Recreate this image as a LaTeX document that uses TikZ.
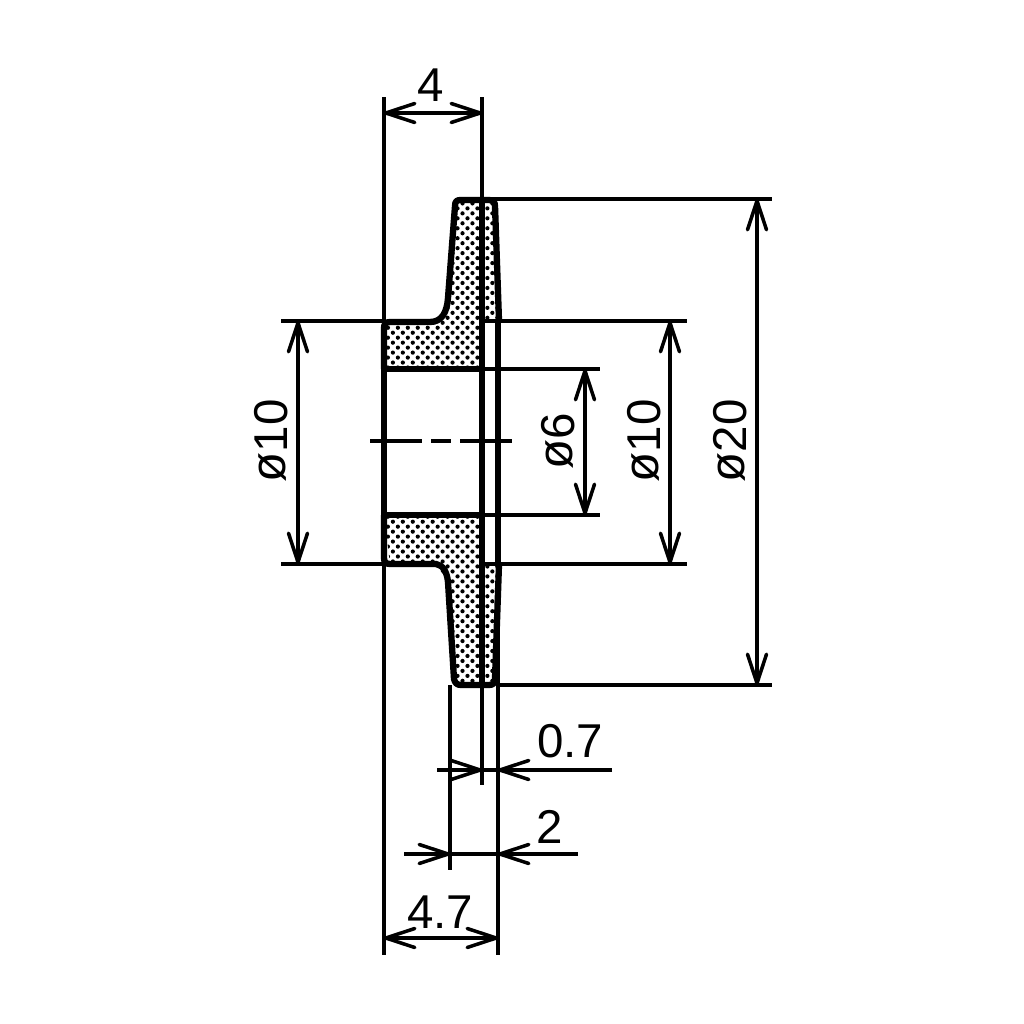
\documentclass[tikz,border=0pt]{standalone}
\usepackage{fontspec}
\setmainfont{Liberation Sans}
\usetikzlibrary{arrows.meta,patterns.meta}

\tikzset{
    thin line/.style={line width=1pt},
    thick line/.style={line width=1.8pt, line join=round},
    dim line/.style={thin line, {Straight Barb[length=2.9mm,width=1.9mm,round]}-{Straight Barb[length=2.9mm,width=1.9mm,round]}},
    dim tip/.style={thin line, -{Straight Barb[length=2.9mm,width=1.9mm,round]}},
    dim text/.style={inner sep=0pt, font=\fontsize{13.5pt}{13.5pt}\selectfont},
    hatch/.style={pattern={Dots[distance=2pt, angle=45, radius=0.6pt]}}
}
\newcommand{\phisign}{\raisebox{0.6pt}{\fontsize{14pt}{14pt}\selectfont ø}}

\begin{document}
\begin{tikzpicture}[x=0.01cm, y=-0.01cm]
        \useasboundingbox (0,0) rectangle (1024,1024);

        % stippled section
        \path[hatch] (384,322) -- (430,322) .. controls (442,322) and (447,312) .. (448,298) -- (455,206) .. controls (455,201) and (457,200) .. (461,200) -- (489,200) .. controls (493,200) and (495,202) .. (495,206) -- (499,321) -- (482,321) -- (482,369) -- (384,369) -- cycle;
        \path[hatch] (384,515) -- (482,515) -- (482,564) -- (499,564) -- (495,680) -- (489,685) -- (461,685) -- (454,679) -- (448,582) -- (436,564) -- (390,564) -- cycle;

        % thin lines first
        \coordinate (a) at (384,97);
        \coordinate (a1) at (384,955);
        \coordinate (b) at (482,97);
        \coordinate (b1) at (482,785);
        \coordinate (c) at (450,685);
        \coordinate (c1) at (450,870);
        \coordinate (d) at (498,321);
        \coordinate (d1) at (498,955);
        \draw[thin line] (a) -- (a1);
        \draw[thin line] (b) -- (b1);
        \draw[thin line] (c) -- (c1);
        \draw[thin line] (d) -- (d1);

        \coordinate (e) at (482,199);
        \coordinate (e1) at (772,199);
        \coordinate (f) at (281,321);
        \coordinate (f1) at (384,321);
        \coordinate (g) at (482,321);
        \coordinate (g1) at (687,321);
        \coordinate (h) at (482,369);
        \coordinate (h1) at (600,369);
        \coordinate (i) at (482,515);
        \coordinate (i1) at (600,515);
        \coordinate (j) at (281,564);
        \coordinate (j1) at (384,564);
        \coordinate (k) at (482,564);
        \coordinate (k1) at (687,564);
        \coordinate (l) at (498,685);
        \coordinate (l1) at (772,685);
        \draw[thin line] (e) -- (e1);
        \draw[thin line] (f) -- (f1);
        \draw[thin line] (g) -- (g1);
        \draw[thin line] (h) -- (h1);
        \draw[thin line] (i) -- (i1);
        \draw[thin line] (j) -- (j1);
        \draw[thin line] (k) -- (k1);
        \draw[thin line] (l) -- (l1);

        % outline
        \draw[thick line] (384,369) -- (384,328) .. controls (384,324) and (386,322) .. (390,322) -- (430,322) .. controls (442,322) and (447,312) .. (448,298) -- (455,206) .. controls (455,201) and (457,200) .. (461,200) -- (489,200) .. controls (493,200) and (495,202) .. (495,206) -- (499,321);
        \draw[thick line] (384,515) -- (384,558) .. controls (384,562) and (386,564) .. (390,564) -- (436,564) .. controls (443,565) and (447,572) .. (448,582) -- (454,679) .. controls (455,683) and (457,685) .. (461,685) -- (489,685) .. controls (493,685) and (495,683) .. (495,679) -- (499,564);
        \draw[thick line] (384,369) -- (482,369);
        \draw[thick line] (384,515) -- (482,515);
        \draw[thick line] (384,369) -- (384,515);
        \draw[thick line] (482,200) -- (482,685);
        \draw[thick line] (498,321) -- (498,564);

        % centre line
        \coordinate (m) at (370,441);
        \coordinate (m1) at (512,441);
        \draw[thin line, dash pattern=on 14.8pt off 2.6pt on 5.7pt off 2.6pt] (m) -- (m1);

        % dimensions
        \coordinate (n) at (384,113);
        \coordinate (n1) at (482,113);
        \draw[dim line] (n) -- (n1);
        \node[dim text] (t4) at (431,85) {4};

        \coordinate (o) at (298,321);
        \coordinate (o1) at (298,564);
        \draw[dim line] (o) -- (o1);
        \node[dim text, rotate=90] (t10a) at (271,441) {\phisign 10};

        \coordinate (p) at (585,369);
        \coordinate (p1) at (585,515);
        \draw[dim line] (p) -- (p1);
        \node[dim text, rotate=90] (t6) at (558,441) {\phisign 6};

        \coordinate (q) at (670,321);
        \coordinate (q1) at (670,564);
        \draw[dim line] (q) -- (q1);
        \node[dim text, rotate=90] (t10b) at (644,441) {\phisign 10};

        \coordinate (r) at (757,199);
        \coordinate (r1) at (757,685);
        \draw[dim line] (r) -- (r1);
        \node[dim text, rotate=90] (t20) at (730,441) {\phisign 20};

        \coordinate (s) at (437,770);
        \coordinate (s1) at (482,770);
        \coordinate (s2) at (612,770);
        \coordinate (s3) at (498,770);
        \draw[dim tip] (s) -- (s1);
        \draw[dim tip] (s2) -- (s3);
        \draw[thin line] (s1) -- (s3);
        \node[dim text] (t07) at (570,741) {0.7};

        \coordinate (u) at (404,854);
        \coordinate (u1) at (450,854);
        \coordinate (u2) at (578,854);
        \coordinate (u3) at (498,854);
        \draw[dim tip] (u) -- (u1);
        \draw[dim tip] (u2) -- (u3);
        \draw[thin line] (u1) -- (u3);
        \node[dim text] (t2) at (550,827) {2};

        \coordinate (v) at (384,938);
        \coordinate (v1) at (498,938);
        \draw[dim line] (v) -- (v1);
        \node[dim text] (t47) at (440,912) {4.7};
\end{tikzpicture}
\end{document}
